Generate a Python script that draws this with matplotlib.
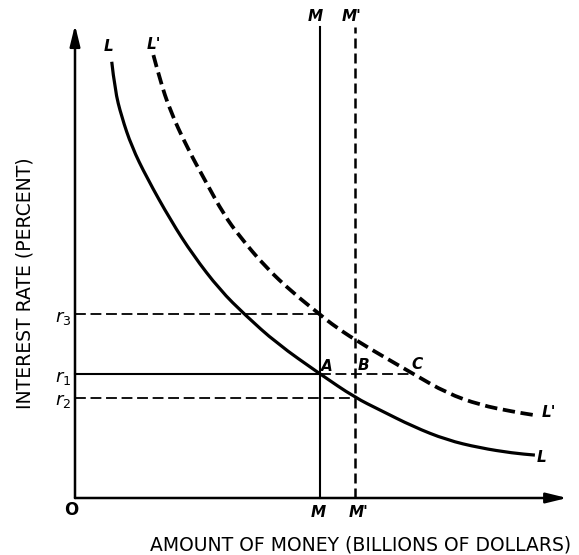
import numpy as np
import matplotlib
matplotlib.use('Agg')
import matplotlib.pyplot as plt
from matplotlib.path import Path
from matplotlib.patches import PathPatch

font = {'family': 'DejaVu Sans', 'size': 12}
matplotlib.rc('font', **font)

# liquidity preference curves (money, interest rate)
L_x = [1.05, 1.14, 1.33, 1.62, 2.05, 2.74, 3.37, 4.14, 4.86, 5.76, 7.0, 8.0,
       8.71, 9.66, 10.62, 11.57, 12.51, 13.14]
L_y = [17.59, 16.45, 15.38, 14.17, 12.92, 11.18, 9.8, 8.39, 7.38, 6.24, 5.0, 4.05,
       3.55, 2.88, 2.34, 2.02, 1.81, 1.73]
L2_x = [2.24, 2.43, 2.71, 3.19, 3.71, 4.26, 4.71, 5.43, 6.23, 7.0, 7.29, 8.0,
        9.67, 10.62, 11.57, 12.52, 13.09]
L2_y = [17.86, 16.85, 15.65, 14.17, 12.82, 11.41, 10.54, 9.33, 8.27, 7.4, 7.06, 6.37,
        5.0, 4.23, 3.75, 3.48, 3.35]

# money supply and interest rate levels
M = 7.0
M2 = 8.0
C_x = 9.67
r1 = 5.0
r2 = 4.05
r3 = 7.4
top_M = 19.0
x_end = 14.06
y_end = 19.07


def smooth_path(xs, ys):
    # quadratic bezier through the midpoints, read points act as controls
    pts = np.column_stack([xs, ys])
    verts = [pts[0]]
    codes = [Path.MOVETO]
    for i in range(1, len(pts) - 1):
        verts += [pts[i], (pts[i] + pts[i + 1]) / 2]
        codes += [Path.CURVE3, Path.CURVE3]
    verts.append(pts[-1])
    codes.append(Path.LINETO)
    return Path(verts, codes)


fig = plt.figure(figsize=(5.79, 5.55), dpi=100)
ax = fig.add_axes([0, 0, 1, 1])
ax.set_xlim(-75 / 35, 504 / 35)
ax.set_ylim(-57 / 24.8, 498 / 24.8)
ax.axis('off')

arrow = dict(arrowstyle='-|>,head_length=0.9,head_width=0.22', lw=1.8,
             color='black', mutation_scale=14, shrinkA=0, shrinkB=0)
ax.annotate('', xy=(0, y_end), xytext=(0, 0), arrowprops=arrow)
ax.annotate('', xy=(x_end, 0), xytext=(0, 0), arrowprops=arrow)

# curves
ax.add_patch(PathPatch(smooth_path(L_x, L_y), fill=False, color='black', lw=2.3,
                       capstyle='butt'))
ax.add_patch(PathPatch(smooth_path(L2_x, L2_y), fill=False, color='black', lw=2.7,
                       linestyle=(0, (3.3, 1.5)), capstyle='butt'))

# money supply lines
ax.plot([M, M], [0, top_M], color='black', lw=1.5)
ax.plot([M2, M2], [0, top_M], color='black', lw=1.8, dashes=(4, 2))

# interest rate guides
ax.plot([0, M], [r1, r1], color='black', lw=1.5)
ax.plot([M, C_x], [r1, r1], color='black', lw=1.3, dashes=(6, 2.6))
ax.plot([0, M], [r3, r3], color='black', lw=1.3, dashes=(6, 2.6))
ax.plot([0, M2], [r2, r2], color='black', lw=1.3, dashes=(6, 2.6))

lab = dict(fontsize=11, fontweight='bold', fontstyle='italic', ha='center', va='center')
ax.text(L_x[0] - 0.1, 18.19, 'L', **lab)
ax.text(L2_x[0] + 0.02, 18.27, "L'", **lab)
ax.text(L_x[-1] + 0.2, L_y[-1] - 0.08, 'L', **lab)
ax.text(L2_x[-1] + 0.45, L2_y[-1] + 0.08, "L'", **lab)
ax.text(M - 0.14, 19.4, 'M', **lab)
ax.text(M2 - 0.1, 19.4, "M'", **lab)
ax.text(M - 0.06, -0.6, 'M', **lab)
ax.text(M2 + 0.1, -0.6, "M'", **lab)
ax.text(M + 0.19, r1 + 0.3, 'A', **lab)
ax.text(M2 + 0.24, r1 + 0.36, 'B', **lab)
ax.text(C_x + 0.1, r1 + 0.4, 'C', **lab)
ax.text(-0.1, -0.48, 'O', fontsize=12, fontweight='bold', ha='center', va='center')

for val, name in [(r3, '3'), (r1, '1'), (r2, '2')]:
    ax.text(-0.1, val - 0.15, r'$r_%s$' % name, fontsize=13, ha='right', va='center')

ax.text(-1.43, 8.67, 'INTEREST RATE (PERCENT)', rotation=90, ha='center', va='center',
        fontsize=13.5)
ax.text(8.17, -1.9, 'AMOUNT OF MONEY (BILLIONS OF DOLLARS)', ha='center', va='center',
        fontsize=13.5)

fig.savefig('out.png', dpi=100)
